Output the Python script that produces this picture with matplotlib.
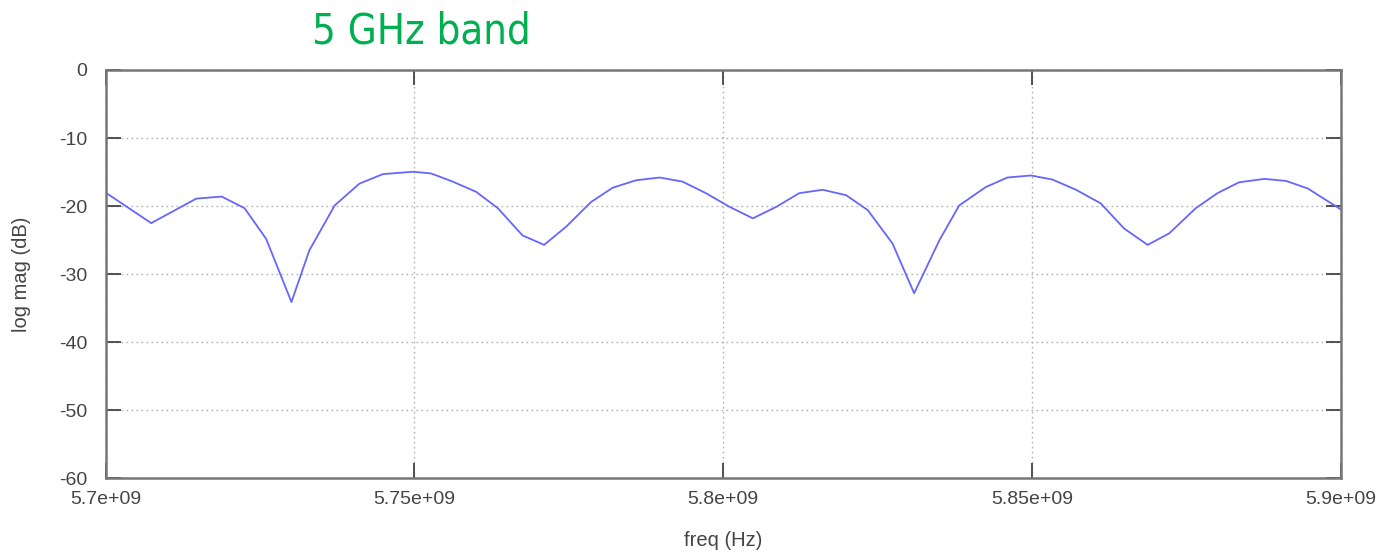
import matplotlib
matplotlib.use("Agg")
import matplotlib.pyplot as plt
from matplotlib.ticker import FixedLocator, FuncFormatter

freq_mhz = [5700.0, 5707.4, 5714.7, 5718.8, 5722.5, 5726.0, 5730.1, 5733.0, 5737.1, 5741.1,
            5744.9, 5749.8, 5752.7, 5756.2, 5760.0, 5763.5, 5767.5, 5771.0, 5774.6, 5778.6,
            5782.1, 5785.9, 5789.7, 5793.4, 5797.2, 5801.0, 5804.8, 5808.6, 5812.3, 5816.1,
            5819.9, 5823.4, 5827.4, 5830.9, 5835.0, 5838.2, 5842.5, 5846.0, 5849.8, 5853.3,
            5857.1, 5861.1, 5864.9, 5868.7, 5872.2, 5876.5, 5880.0, 5883.5, 5887.6, 5891.1,
            5894.6, 5900.0]
log_mag_db = [-18.0, -22.5, -18.9, -18.6, -20.3, -24.8, -34.1, -26.5, -19.9, -16.7,
              -15.3, -14.95, -15.2, -16.4, -17.9, -20.3, -24.3, -25.7, -23.0, -19.4,
              -17.3, -16.2, -15.8, -16.4, -18.1, -20.1, -21.8, -20.1, -18.1, -17.6,
              -18.4, -20.6, -25.5, -32.8, -25.0, -19.9, -17.2, -15.8, -15.5, -16.1,
              -17.6, -19.6, -23.3, -25.7, -24.0, -20.3, -18.1, -16.5, -16.0, -16.3,
              -17.4, -20.5]
x_ticks = [5.7e9, 5.75e9, 5.8e9, 5.85e9, 5.9e9]
x_tick_labels = ["5.7e+09", "5.75e+09", "5.8e+09", "5.85e+09", "5.9e+09"]
y_ticks = [0, -10, -20, -30, -40, -50, -60]
title_text = "5 GHz band"
x_label = "freq (Hz)"
y_label = "log mag (dB)"

freq_hz = [f * 1e6 for f in freq_mhz]

W, H = 1381, 553
fig = plt.figure(figsize=(W / 100, H / 100), dpi=100)
left, right, top, bottom = 105.5, 1341, 70, 478.3
ax = fig.add_axes([left / W, 1 - bottom / H, (right - left) / W, (bottom - top) / H])

ax.plot(freq_hz, log_mag_db, color="#6666ff", lw=1.3)
ax.set_xlim(5.7e9, 5.9e9)
ax.set_ylim(-60, 0)

ax.xaxis.set_major_locator(FixedLocator(x_ticks))
ax.set_xticklabels(x_tick_labels)
ax.yaxis.set_major_locator(FixedLocator(y_ticks))
ax.yaxis.set_major_formatter(FuncFormatter(lambda v, p: "%d" % v))

ax.grid(True, linestyle=(0, (1.2, 2.4)), color="#b0b0b0", lw=1.0)
ax.tick_params(direction="in", length=11, width=1.3, color="#444444",
               top=True, right=True, labelsize=14, labelcolor="#444444")
ax.tick_params(axis="x", pad=9)
ax.tick_params(axis="y", pad=13)
for s in ax.spines.values():
    s.set_color("#777777")
    s.set_linewidth(1.8)

tick_font = "Liberation Sans"
for lab in ax.get_xticklabels() + ax.get_yticklabels():
    lab.set_fontfamily(tick_font)

ax.set_xlabel(x_label, fontsize=14.5, color="#444444", family=tick_font, labelpad=17)
ax.set_ylabel(y_label, fontsize=14.5, color="#444444", family=tick_font, labelpad=20)

fig.text(421 / W, 1 - 31 / H, title_text, ha="center", va="center",
         fontsize=30, color="#00b050", family="DejaVu Sans", fontstretch="condensed")

fig.savefig("out.png", dpi=100)
